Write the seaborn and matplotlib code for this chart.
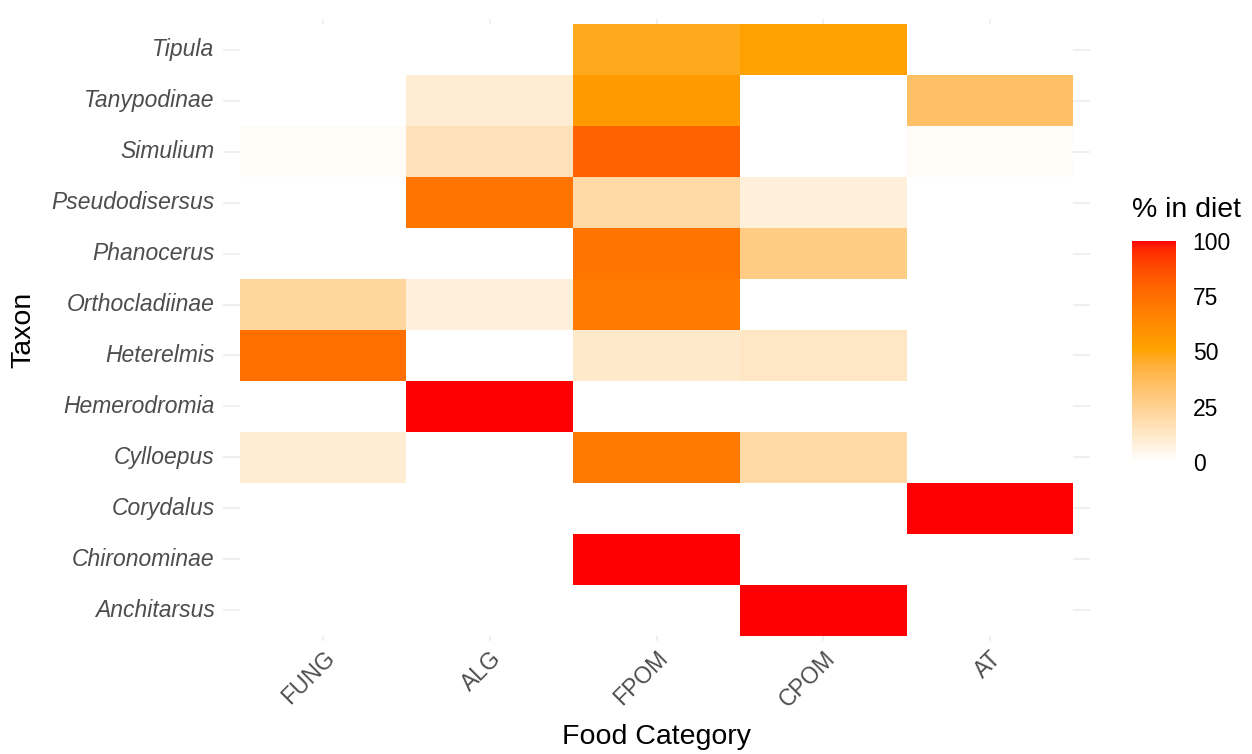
import numpy as np
import pandas as pd
import matplotlib
matplotlib.use("Agg")
import matplotlib.pyplot as plt
import seaborn as sns
from matplotlib.colors import ListedColormap

# ---------------- data ----------------
taxa = ["Tipula", "Tanypodinae", "Simulium", "Pseudodisersus", "Phanocerus",
        "Orthocladiinae", "Heterelmis", "Hemerodromia", "Cylloepus",
        "Corydalus", "Chironominae", "Anchitarsus"]
foods = ["FUNG", "ALG", "FPOM", "CPOM", "AT"]

fung = [0, 0, 2, 0, 0, 22, 75, 0, 10, 0, 0, 0]
alg  = [0, 10, 16, 72, 0, 8, 0, 100, 0, 0, 0, 0]
fpom = [48, 55, 80, 20, 72, 70, 12, 0, 70, 0, 100, 0]
cpom = [52, 0, 0, 8, 28, 0, 13, 0, 20, 0, 0, 100]
at   = [0, 35, 2, 0, 0, 0, 0, 0, 0, 100, 0, 0]

df = pd.DataFrame({"FUNG": fung, "ALG": alg, "FPOM": fpom, "CPOM": cpom, "AT": at},
                  index=taxa)[foods]

# ---------- Lab-interpolated white -> orange -> red palette ----------
def srgb_to_lab(rgb):
    rgb = np.asarray(rgb, float)
    lin = np.where(rgb <= 0.04045, rgb / 12.92, ((rgb + 0.055) / 1.055) ** 2.4)
    M = np.array([[0.4124564, 0.3575761, 0.1804375],
                  [0.2126729, 0.7151522, 0.0721750],
                  [0.0193339, 0.1191920, 0.9503041]])
    xyz = M @ lin
    wp = np.array([0.95047, 1.0, 1.08883])
    t = xyz / wp
    f = np.where(t > (6/29) ** 3, np.cbrt(t), t / (3 * (6/29) ** 2) + 4/29)
    return np.array([116 * f[1] - 16, 500 * (f[0] - f[1]), 200 * (f[1] - f[2])])

def lab_to_srgb(lab):
    L, a, b = lab
    fy = (L + 16) / 116
    fx = fy + a / 500
    fz = fy - b / 200
    def finv(t):
        return np.where(t > 6/29, t ** 3, 3 * (6/29) ** 2 * (t - 4/29))
    wp = np.array([0.95047, 1.0, 1.08883])
    xyz = np.array([finv(fx), finv(fy), finv(fz)]) * wp
    Minv = np.array([[3.2404542, -1.5371385, -0.4985314],
                     [-0.9692660, 1.8760108, 0.0415560],
                     [0.0556434, -0.2040259, 1.0572252]])
    lin = np.clip(Minv @ xyz, 0, 1)
    rgb = np.where(lin <= 0.0031308, 12.92 * lin, 1.055 * lin ** (1 / 2.4) - 0.055)
    return np.clip(rgb, 0, 1)

low = srgb_to_lab([1, 1, 1])
mid = srgb_to_lab([1, 165 / 255, 0])
high = srgb_to_lab([1, 0, 0])
cols = []
for t in np.linspace(0, 1, 256):
    if t <= 0.5:
        lab = low + (mid - low) * (t / 0.5)
    else:
        lab = mid + (high - mid) * ((t - 0.5) / 0.5)
    cols.append(lab_to_srgb(lab))
cmap = ListedColormap(cols)

# ---------------- figure ----------------
sns.set_theme(style="white")
plt.rcParams["font.family"] = ["Liberation Sans", "DejaVu Sans"]

W, H = 1252, 754
fig = plt.figure(figsize=(W / 100, H / 100), dpi=100)
px_l, px_r, px_t, px_b = 223, 1090, 19, 641
ax = fig.add_axes([px_l / W, 1 - px_b / H, (px_r - px_l) / W, (px_b - px_t) / H])
cb_l, cb_r, cb_t, cb_b = 1132, 1176, 241, 462
cax = fig.add_axes([cb_l / W, 1 - cb_b / H, (cb_r - cb_l) / W, (cb_b - cb_t) / H])

sns.heatmap(df, ax=ax, cmap=cmap, vmin=0, vmax=100, cbar=True, cbar_ax=cax,
            linewidths=0, square=False)

ax.set_xlim(-0.1, 5.1)
ax.set_ylim(12.1, -0.1)
ax.set_axisbelow(True)
ax.grid(True, color="#EBEBEB", linewidth=1.1)
for s in ax.spines.values():
    s.set_visible(False)
ax.tick_params(axis="both", length=0)
ax.tick_params(axis="y", pad=6)
ax.tick_params(axis="x", pad=4)

ax.set_yticks(np.arange(len(taxa)) + 0.5)
ax.set_yticklabels(taxa, fontsize=16.5, color="#4D4D4D", style="italic", rotation=0)
ax.set_xticks(np.arange(len(foods)) + 0.5)
ax.set_xticklabels(foods, fontsize=16.5, color="#4D4D4D", rotation=45,
                   ha="right", va="top", rotation_mode="anchor")

ax.set_xlabel("Food Category", fontsize=20.5, color="black")
ax.set_ylabel("Taxon", fontsize=20.5, color="black")
ax.xaxis.label.set_va("center")
ax.yaxis.label.set_va("center")
ax.xaxis.set_label_coords(0.5, (px_b - 737) / (px_b - px_t))
ax.yaxis.set_label_coords((23 - px_l) / (px_r - px_l), 0.5)

# colorbar styling
fig.text(cb_l / W, 1 - 210 / H, "% in diet", fontsize=20.5, color="black",
         ha="left", va="center")
cax.set_yticks([0, 25, 50, 75, 100])
cax.set_yticklabels(["0", "25", "50", "75", "100"])
cax.tick_params(which="major", direction="in", length=9, width=1, color="white",
                left=True, right=True, labelleft=False, labelright=True,
                labelsize=16.5, labelcolor="black", pad=12)
for s in cax.spines.values():
    s.set_visible(False)
cax.collections[0].set_edgecolor("face")

fig.savefig("out.png", dpi=100, facecolor="white")
